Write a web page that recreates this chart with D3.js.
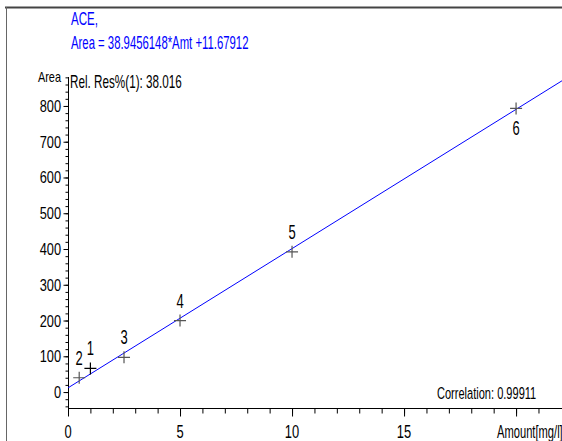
<!DOCTYPE html>
<html>
<head>
<meta charset="utf-8">
<script src="https://cdn.jsdelivr.net/npm/d3@7"></script>
<style>
  body { margin: 0; background: #fff; }
  svg { display: block; }
  text { font-family: "Liberation Sans", Arial, sans-serif; fill: #000; }
</style>
</head>
<body>
<div class="canvas"></div>
<script>
const svgWidth = 562;
const svgHeight = 441;

// calibration points
const pointNames = ['1', '2', '3', '4', '5', '6'];
const amounts = [1, 0.5, 2.5, 5, 10, 20];
const areas = [66, 40, 97, 200, 392, 793];

// fit and annotation texts
const slope = 38.9456148;
const intercept = 11.67912;
const compoundName = 'ACE,';
const equationText = 'Area = 38.9456148*Amt +11.67912';
const relResText = 'Rel. Res%(1): 38.016';
const correlationText = 'Correlation: 0.99911';

const xTicks = [0, 5, 10, 15, 20];
const yTicks = [0, 100, 200, 300, 400, 500, 600, 700, 800];

const svg = d3.select('.canvas')
    .append('svg')
    .attr('width', svgWidth)
    .attr('height', svgHeight);

// the original uses a condensed face, so squeeze regular text horizontally
function narrowText(parent, tx, ty, str, size, squeeze, anchor) {
    return parent.append('text')
        .attr('transform', `translate(${tx}, ${ty}) scale(${squeeze}, 1)`)
        .attr('text-anchor', anchor || 'start')
        .attr('font-size', size)
        .text(str);
}

// frame
svg.append('line')
    .attr('x1', 5).attr('x2', svgWidth).attr('y1', 7.5).attr('y2', 7.5)
    .attr('stroke', '#444').attr('stroke-width', 2);
svg.append('line')
    .attr('x1', 6.5).attr('x2', 6.5).attr('y1', 7).attr('y2', svgHeight)
    .attr('stroke', '#666').attr('stroke-width', 1);

const x = d3.scaleLinear()
    .domain([0, 22.05])
    .range([68, 562]);

const y = d3.scaleLinear()
    .domain([-46, 881])
    .range([408.5, 77]);

// y axis with minor ticks every 20
const yAxisGroup = svg.append('g').attr('transform', 'translate(68.5, 0)');
yAxisGroup.call(d3.axisLeft(y).tickValues(d3.range(-40, 881, 20)).tickSize(3).tickFormat(''));
yAxisGroup.call(g => g.append('g').call(d3.axisLeft(y).tickValues(yTicks).tickSize(5).tickFormat('')));
yAxisGroup.selectAll('.domain').attr('d', `M0,${y(-46)}V${y(881)}`);
yAxisGroup.selectAll('path, line').attr('stroke', '#000');

yTicks.forEach(d => {
    narrowText(svg, 61, y(d) + 6, d, 16, 0.8, 'end');
});

narrowText(svg, 61, 82, 'Area', 14, 0.78, 'end');

// x axis with minor ticks every 1
const xAxisGroup = svg.append('g').attr('transform', 'translate(0, 408.5)');
xAxisGroup.call(d3.axisBottom(x).tickValues(d3.range(0, 22, 1)).tickSize(5).tickFormat(''));
xAxisGroup.call(g => g.append('g').call(d3.axisBottom(x).tickValues(xTicks).tickSize(8).tickFormat('')));
xAxisGroup.selectAll('.domain').attr('d', `M${x(0)},0H${svgWidth}`);
xAxisGroup.selectAll('path, line').attr('stroke', '#000');

// the 20 label is hidden under the axis title in the original
xTicks.filter(d => d < 20).forEach(d => {
    narrowText(svg, x(d), 438, d, 19, 0.68, 'middle');
});

narrowText(svg, 497, 438, 'Amount[mg/l]', 18, 0.62);

// regression line
svg.append('line')
    .attr('x1', x(0)).attr('y1', y(intercept))
    .attr('x2', x(22.05)).attr('y2', y(slope * 22.05 + intercept))
    .attr('stroke', '#0000ff')
    .attr('stroke-width', 1);

// points as crosses
const points = pointNames.map((name, i) => ({ name, amt: amounts[i], area: areas[i] }));
const last = points.length - 1;

const marks = svg.selectAll('.pt')
    .data(points)
    .enter()
    .append('g')
    .attr('class', 'pt')
    .attr('transform', d => `translate(${x(d.amt)}, ${y(d.area)})`);

marks.append('path')
    .attr('d', 'M-6,0H6M0,-6V6')
    .attr('stroke', (d, i) => i === 0 ? '#000' : '#555')
    .attr('stroke-width', 1.2);

marks.each(function (d, i) {
    narrowText(d3.select(this), 0, i === last ? 27 : -13, d.name, 20, 0.65, 'middle');
});

// annotations
narrowText(svg, 71, 25, compoundName, 18, 0.64).style('fill', '#0000ff');
narrowText(svg, 71, 49, equationText, 18, 0.63).style('fill', '#0000ff');
narrowText(svg, 70, 88, relResText, 18, 0.65);
narrowText(svg, 437, 399, correlationText, 17, 0.65);
</script>
</body>
</html>
